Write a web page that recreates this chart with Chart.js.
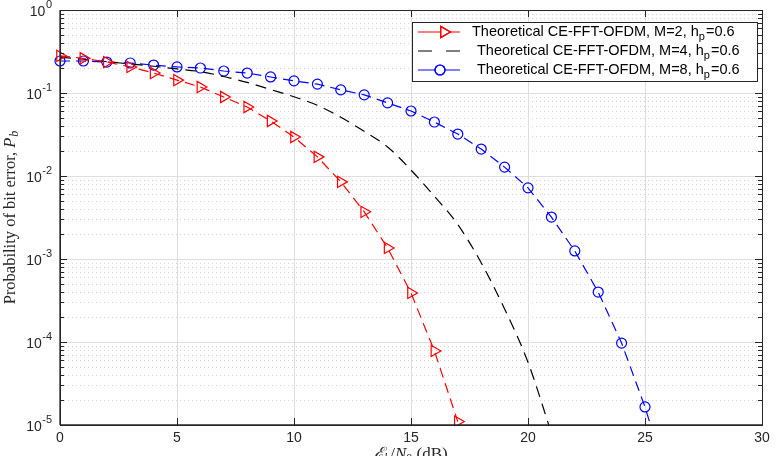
<!DOCTYPE html>
<html>
<head>
<meta charset="utf-8">
<script src="https://cdn.jsdelivr.net/npm/chart.js@4"></script>
<style>
html,body{margin:0;padding:0;background:#fff;}
canvas{display:block;}
</style>
</head>
<body>
<canvas id="c" width="778" height="456"></canvas>
<script>
// ---- data ----
const snrM2 = [0,1,2,3,4,5,6,7,8,9,10,11,12,13,14,15,16,17];
const berM2 = [0.28,0.262,0.236,0.206,0.174,0.143,0.118,0.0895,0.0678,0.046,0.0295,0.017,0.0085,0.0037,0.00136,0.00039,7.8e-5,1.1e-5];
const snrM4 = [0,1,2,3,4,5,6,7,8,9,10,11,12,13,14,15,16,17,18,19,20,21];
const berM4 = [0.27,0.255,0.238,0.224,0.21,0.195,0.181,0.158,0.134,0.11,0.09,0.071,0.051,0.0345,0.0224,0.0118,0.0057,0.0026,0.0009,0.00025,5.7e-5,8e-6];
const snrM8 = [0,1,2,3,4,5,6,7,8,9,10,11,12,13,14,15,16,17,18,19,20,21,22,23,24,25,26];
const berM8 = [0.243,0.243,0.236,0.23,0.217,0.206,0.2,0.184,0.174,0.156,0.14,0.128,0.109,0.095,0.076,0.0607,0.0447,0.032,0.0211,0.0128,0.0072,0.0032,0.00125,0.0004,9.7e-5,1.65e-5,2e-6];
const seriesLabels = ["Theoretical CE-FFT-OFDM, M=2, h", "Theoretical CE-FFT-OFDM, M=4, h", "Theoretical CE-FFT-OFDM, M=8, h"];
const labelSuffix = "=0.6";
const xTicks = [0,5,10,15,20,25,30];
const yExponents = [0,-1,-2,-3,-4,-5];

const pts = (xs, ys) => xs.map((x,i)=>({x:x, y:ys[i]}));
const SANS = '"Liberation Sans", Arial, Helvetica, sans-serif';
const SERIF = '"Liberation Serif", "Times New Roman", serif';

const axesPlugin = {
  id: 'matlabAxes',
  beforeDatasetsDraw(chart){
    const {ctx, chartArea:a, scales:{x, y}} = chart;
    ctx.save();
    // minor dotted horizontal grid
    ctx.strokeStyle = 'rgba(160,160,160,0.45)';
    ctx.lineWidth = 1;
    ctx.setLineDash([1,3]);
    for (let k=-5;k<0;k++){
      for (let m=2;m<=9;m++){
        const py = Math.round(y.getPixelForValue(m*Math.pow(10,k)))+0.5;
        ctx.beginPath(); ctx.moveTo(a.left, py); ctx.lineTo(a.right, py); ctx.stroke();
      }
    }
    ctx.setLineDash([]);
    ctx.strokeStyle = 'rgb(222,222,222)';
    yExponents.forEach(e=>{
      const py = Math.round(y.getPixelForValue(Math.pow(10,e)))+0.5;
      ctx.beginPath(); ctx.moveTo(a.left, py); ctx.lineTo(a.right, py); ctx.stroke();
    });
    xTicks.forEach(v=>{
      const px = Math.round(x.getPixelForValue(v))+0.5;
      ctx.beginPath(); ctx.moveTo(px, a.top); ctx.lineTo(px, a.bottom); ctx.stroke();
    });
    ctx.restore();
  },
  afterDatasetsDraw(chart){
    const {ctx, chartArea:a, scales:{x, y}} = chart;
    ctx.save();
    ctx.strokeStyle = '#262626';
    ctx.lineWidth = 1;
    ctx.setLineDash([]);
    // frame
    ctx.strokeRect(Math.round(a.left)+0.5, Math.round(a.top)+0.5, Math.round(a.right-a.left), Math.round(a.bottom-a.top));
    ctx.lineWidth = 1.3;
    ctx.beginPath(); ctx.moveTo(a.left, a.bottom); ctx.lineTo(a.right, a.bottom); ctx.stroke();
    ctx.beginPath(); ctx.moveTo(a.left, a.top); ctx.lineTo(a.left, a.bottom); ctx.stroke();
    ctx.lineWidth = 1;
    // x ticks
    xTicks.forEach(v=>{
      const px = Math.round(x.getPixelForValue(v))+0.5;
      ctx.beginPath();
      ctx.moveTo(px, a.bottom); ctx.lineTo(px, a.bottom-7);
      ctx.moveTo(px, a.top); ctx.lineTo(px, a.top+7);
      ctx.stroke();
    });
    // y ticks
    for (let k=-5;k<=0;k++){
      for (let m=1;m<=9;m++){
        if (k===0 && m>1) break;
        const py = Math.round(y.getPixelForValue(m*Math.pow(10,k)))+0.5;
        const len = m===1?7:4;
        ctx.beginPath();
        ctx.moveTo(a.left, py); ctx.lineTo(a.left+len, py);
        ctx.moveTo(a.right, py); ctx.lineTo(a.right-len, py);
        ctx.stroke();
      }
    }
    // x tick labels
    ctx.fillStyle = '#262626';
    ctx.font = '14px ' + SANS;
    ctx.textAlign = 'center'; ctx.textBaseline = 'middle';
    xTicks.forEach(v=>{
      ctx.fillText(String(v), x.getPixelForValue(v), 438);
    });
    // y tick labels with superscripts
    yExponents.forEach(e=>{
      const py = y.getPixelForValue(Math.pow(10,e));
      const expStr = String(e);
      ctx.font = '11px ' + SANS;
      const ew = ctx.measureText(expStr).width;
      ctx.textAlign = 'left'; ctx.textBaseline = 'middle';
      const right = 52;
      ctx.fillText(expStr, right-ew, py-5);
      ctx.font = '14px ' + SANS;
      ctx.textAlign = 'right';
      ctx.fillText('10', right-ew-0.5, py+2);
    });
    // y axis title
    ctx.save();
    ctx.translate(15, (a.top+a.bottom)/2);
    ctx.rotate(-Math.PI/2);
    ctx.fillStyle = '#262626';
    ctx.textBaseline = 'alphabetic';
    const t1 = 'Probability of bit error, ';
    ctx.font = '16.5px ' + SERIF;
    const w1 = ctx.measureText(t1).width;
    ctx.font = 'italic 16.5px ' + SERIF;
    const w2 = ctx.measureText('P').width;
    ctx.font = 'italic 12px ' + SERIF;
    const w3 = ctx.measureText('b').width;
    let sx = -(w1+w2+w3+1)/2;
    ctx.textAlign = 'left';
    ctx.font = '16.5px ' + SERIF; ctx.fillText(t1, sx, 0); sx += w1;
    ctx.font = 'italic 16.5px ' + SERIF; ctx.fillText('P', sx, 0); sx += w2+1;
    ctx.font = 'italic 12px ' + SERIF; ctx.fillText('b', sx, 3);
    ctx.restore();
    // x axis title
    {
      const parts = [
        {t:'\u2130', f:'italic 17px '+SERIF, dy:0},
        {t:'b', f:'italic 12px '+SERIF, dy:3},
        {t:'/', f:'17px '+SERIF, dy:0},
        {t:'N', f:'italic 17px '+SERIF, dy:0},
        {t:'0', f:'12px '+SERIF, dy:3},
        {t:' (dB)', f:'17px '+SERIF, dy:0}
      ];
      let tw = 0;
      parts.forEach(p=>{ctx.font=p.f; p.w=ctx.measureText(p.t).width; tw+=p.w;});
      let px = (a.left+a.right)/2 - tw/2;
      ctx.textAlign='left'; ctx.textBaseline='alphabetic';
      parts.forEach(p=>{ctx.font=p.f; ctx.fillText(p.t, px, 459+p.dy); px+=p.w;});
    }
    // legend
    const L = {left:412, top:22, right:757, bottom:81};
    ctx.fillStyle = '#fff';
    ctx.fillRect(L.left, L.top, L.right-L.left, L.bottom-L.top);
    ctx.strokeStyle = '#262626'; ctx.lineWidth = 1;
    ctx.strokeRect(L.left+0.5, L.top+0.5, L.right-L.left, L.bottom-L.top);
    const rowsY = [32, 51, 70];
    const textX = [472, 477, 477];
    chart.data.datasets.forEach((ds,i)=>{
      const ry = rowsY[i];
      ctx.strokeStyle = ds.borderColor;
      ctx.lineWidth = ds.borderWidth;
      if (ds.pointRadius>0){
        ctx.setLineDash([]);
        ctx.beginPath(); ctx.moveTo(418, ry); ctx.lineTo(460, ry); ctx.stroke();
        const mx = ds.pointStyle==='triangle'?444:440;
        ctx.fillStyle = '#fff';
        Chart.helpers.drawPoint(ctx, {pointStyle: ds.pointStyle, rotation: ds.pointRotation||0, radius: ds.pointRadius, borderWidth: ds.pointBorderWidth}, mx, ry);
        ctx.stroke();
      } else {
        ctx.setLineDash([]);
        ctx.beginPath(); ctx.moveTo(418, ry); ctx.lineTo(432, ry); ctx.moveTo(446, ry); ctx.lineTo(460, ry); ctx.stroke();
      }
      ctx.fillStyle = '#000';
      ctx.textAlign='left'; ctx.textBaseline='middle';
      ctx.font = '14.5px ' + SANS;
      const lab = ds.label;
      ctx.fillText(lab, textX[i], ry);
      let tx = textX[i] + ctx.measureText(lab).width;
      ctx.font = '11px ' + SANS;
      ctx.fillText('p', tx, ry+5);
      tx += ctx.measureText('p').width + 1;
      ctx.font = '14.5px ' + SANS;
      ctx.fillText(labelSuffix, tx, ry);
    });
    ctx.restore();
  }
};

const clipOpt = {left: 10, top: 10, right: 10, bottom: 0};
new Chart(document.getElementById('c'), {
  type: 'line',
  data: {
    datasets: [
      {label: seriesLabels[0], data: pts(snrM2, berM2), borderColor: '#ff0000', borderWidth: 1.2, borderDash: [10,6],
       pointStyle: 'triangle', pointRotation: 90, pointRadius: 6.5, pointBorderWidth: 1.2, pointBackgroundColor: 'rgba(0,0,0,0)', pointBorderColor: '#ff0000', clip: clipOpt},
      {label: seriesLabels[1], data: pts(snrM4, berM4), borderColor: '#000000', borderWidth: 1.2, borderDash: [11,7],
       pointRadius: 0, cubicInterpolationMode: 'monotone', clip: clipOpt},
      {label: seriesLabels[2], data: pts(snrM8, berM8), borderColor: '#0000ff', borderWidth: 1.2, borderDash: [10,6],
       pointStyle: 'circle', pointRadius: 5, pointBorderWidth: 1.2, pointBackgroundColor: 'rgba(0,0,0,0)', pointBorderColor: '#0000ff', clip: clipOpt}
    ]
  },
  options: {
    responsive: false,
    animation: false,
    devicePixelRatio: 1,
    layout: {padding: {left: 60, top: 10, right: 16, bottom: 31}},
    plugins: {legend: {display: false}, tooltip: {enabled: false}},
    elements: {line: {tension: 0}},
    scales: {
      x: {type: 'linear', min: 0, max: 30, display: false},
      y: {type: 'logarithmic', min: 1e-5, max: 1, display: false}
    }
  },
  plugins: [axesPlugin]
});
</script>
</body>
</html>
